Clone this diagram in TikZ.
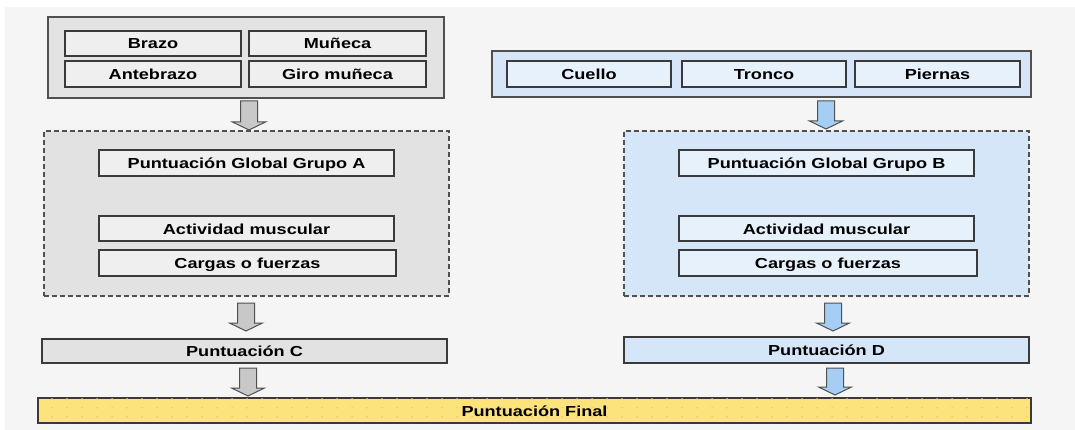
\documentclass[tikz,border=0pt]{standalone}
\usepackage{fontspec}
\usetikzlibrary{calc,patterns.meta}
\newfontfamily\labfont[FakeStretch=1.25]{Liberation Sans}
\definecolor{bgc}{HTML}{F5F5F5}
\definecolor{edgec}{HTML}{505050}
\definecolor{inedge}{HTML}{3A3A3A}
\definecolor{gOuter}{HTML}{E3E3E3}
\definecolor{gInner}{HTML}{EFEFEF}
\definecolor{gDash}{HTML}{E2E2E2}
\definecolor{gArrow}{HTML}{C8C8C8}
\definecolor{bOuter}{HTML}{D6E6F8}
\definecolor{bInner}{HTML}{E7F1FC}
\definecolor{bDash}{HTML}{D5E6F8}
\definecolor{bArrow}{HTML}{A6CDF4}
\definecolor{yFinal}{HTML}{FDE37B}
\definecolor{yDot}{HTML}{EDC44A}
\tikzdeclarepattern{name=ydots, type=uncolored,
  bounding box={(0pt,0pt) and (15pt,9pt)}, tile size={(15pt,9pt)},
  code={\fill (7.5pt,4.5pt) circle (0.9pt);}}
\tikzset{
  lbl/.style={font=\labfont\bfseries\fontsize{14.5}{16}\selectfont, text=black,
              text height=11pt, text depth=0pt},
  outerbox/.style={draw=edgec, line width=1.5pt, inner sep=0pt, outer sep=0pt},
  innerbox/.style={draw=inedge, line width=2pt, inner sep=0pt, outer sep=0pt, lbl},
  dashbox/.style={draw=edgec, line width=1.2pt, dash pattern=on 5pt off 3pt, inner sep=0pt, outer sep=0pt},
  barbox/.style={draw=inedge, line width=1.6pt, inner sep=0pt, outer sep=0pt, lbl},
  arrowshape/.style={draw=edgec, line width=1pt, line join=miter}
}
% #1 from node, #2 to node, #3 x offset, #4 top offset, #5 tip offset, #6 fill
\newcommand\blockarr[6]{%
  \path let \p1=($(#1)+(#3,#4)$), \p2=($(#2)+(0,#5)$) in
    [arrowshape, fill=#6]
    (\x1-8.5pt,\y1) -- (\x1-8.5pt,\y2+8pt) -- (\x1-16.5pt,\y2+8pt) -- (\x1,\y2)
    -- (\x1+16.5pt,\y2+8pt) -- (\x1+8.5pt,\y2+8pt) -- (\x1+8.5pt,\y1) -- cycle;}
\begin{document}
\begin{tikzpicture}[x=1pt,y=-1pt]
\useasboundingbox (0,0) rectangle (1075,430);
\fill[bgc] (0,0) rectangle (1075,430);
\fill[white] (0,0) rectangle (1075,7);
\fill[white] (0,0) rectangle (5,430);

% Group A
\node[outerbox, fill=gOuter, minimum width=396pt, minimum height=81pt] (boxA) at (246,57.5) {};
\node[innerbox, fill=gInner, minimum width=176pt, minimum height=25pt] (brazo) at (153,43.5) {Brazo};
\node[innerbox, fill=gInner, minimum width=177pt, minimum height=25pt] (muneca) at (337.5,43.5) {Muñeca};
\node[innerbox, fill=gInner, minimum width=176pt, minimum height=26pt] (antebrazo) at (153,74) {Antebrazo};
\node[innerbox, fill=gInner, minimum width=177pt, minimum height=26pt] (giro) at (337.5,74) {Giro muñeca};

\node[dashbox, fill=gDash, minimum width=405pt, minimum height=165pt] (dashA) at (246.5,213.5) {};
\node[innerbox, fill=gInner, minimum width=295pt, minimum height=26pt] (pgga) at (246.5,163) {Puntuación Global Grupo A};
\node[innerbox, fill=gInner, minimum width=295pt, minimum height=25pt] (acta) at (246.5,228.5) {Actividad muscular};
\node[innerbox, fill=gInner, minimum width=297pt, minimum height=26pt] (carga) at (247.5,263) {Cargas o fuerzas};

\node[barbox, fill=gDash, minimum width=405pt, minimum height=24pt] (pc) at (244.5,351) {Puntuación C};

% Group B
\node[outerbox, fill=bOuter, minimum width=539pt, minimum height=46pt] (boxB) at (761.5,74) {};
\node[innerbox, fill=bInner, minimum width=164pt, minimum height=26pt] (cuello) at (589,74) {Cuello};
\node[innerbox, fill=bInner, minimum width=164pt, minimum height=26pt] (tronco) at (764,74) {Tronco};
\node[innerbox, fill=bInner, minimum width=165pt, minimum height=26pt] (piernas) at (937.5,74) {Piernas};

\node[dashbox, fill=bDash, minimum width=405pt, minimum height=165pt] (dashB) at (826.5,213.5) {};
\node[innerbox, fill=bInner, minimum width=295pt, minimum height=26pt] (pggb) at (826.5,163) {Puntuación Global Grupo B};
\node[innerbox, fill=bInner, minimum width=295pt, minimum height=25pt] (actb) at (826.5,228.5) {Actividad muscular};
\node[innerbox, fill=bInner, minimum width=298pt, minimum height=26pt] (cargb) at (828,263) {Cargas o fuerzas};

\node[barbox, fill=bDash, minimum width=405pt, minimum height=26pt] (pd) at (826.5,350) {Puntuación D};

% Final
\node[barbox, fill=yFinal, postaction={pattern={ydots}, pattern color=yDot},
      minimum width=993pt, minimum height=25pt] (final) at (534.5,410.5) {Puntuación Final};

% Arrows
\blockarr{boxA.south}{dashA.north}{3}{3}{-1}{gArrow}
\blockarr{dashA.south}{pc.north}{-0.5}{7}{-8}{gArrow}
\blockarr{pc.south}{final.north}{3.5}{5}{-2}{gArrow}
\blockarr{boxB.south}{dashB.north}{64.5}{4}{-2}{bArrow}
\blockarr{dashB.south}{pd.north}{6.5}{7}{-6}{bArrow}
\blockarr{pd.south}{final.north}{8.5}{5}{-3}{bArrow}
\end{tikzpicture}
\end{document}
